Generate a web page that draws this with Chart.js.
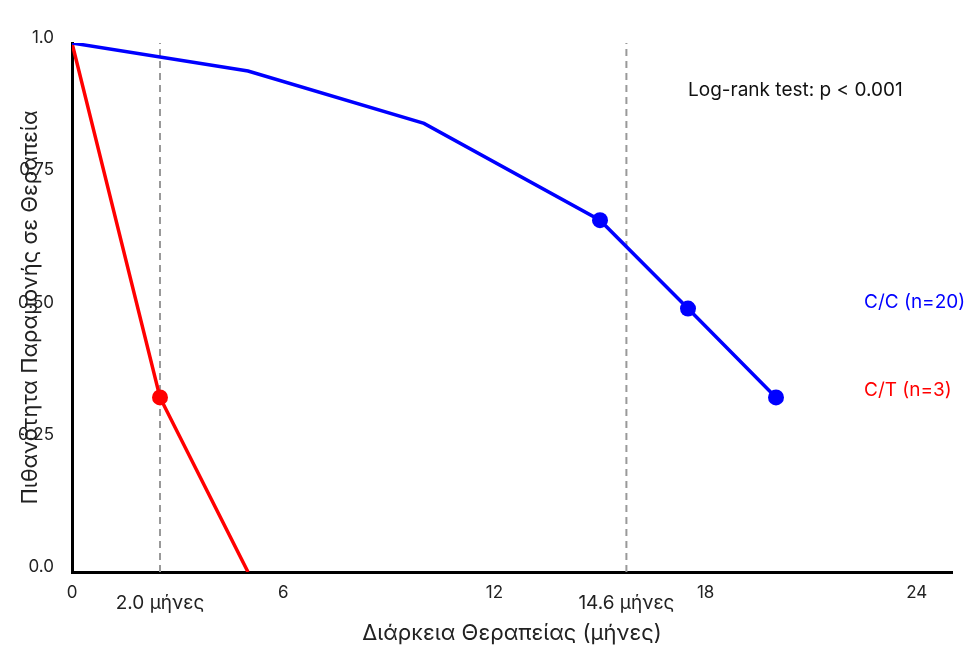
<!DOCTYPE html>
<html>
<head>
<meta charset="utf-8">
<script src="https://cdn.jsdelivr.net/npm/chart.js@4.4.0/dist/chart.umd.min.js"></script>
<style>
  html, body { margin: 0; padding: 0; background: #fff; }
  #wrap { width: 966px; height: 648px; }
</style>
</head>
<body>
<div id="wrap"><canvas id="kmChart"></canvas></div>
<script>
// Kaplan-Meier style curves (months vs probability of staying on therapy)
var ccMonths = [0, 5, 10, 15, 17.5, 20];
var ccSurvival = [1.0, 0.947, 0.848, 0.665, 0.498, 0.330];
var ccMarked = [false, false, false, true, true, true];

var ctMonths = [0, 2.5, 5];
var ctSurvival = [1.0, 0.330, 0.0];
var ctMarked = [false, true, false];

var medianMonths = [2.5, 15.75];
var medianLabels = ['2.0 μήνες', '14.6 μήνες'];

var xTicks = [0, 6, 12, 18, 24];
var yTicks = [0, 0.25, 0.5, 0.75, 1.0];
var yTickLabels = ['0.0', '0.25', '0.50', '0.75', '1.0'];

var FONT = 'Inter, "Liberation Sans", sans-serif';

function toPoints(xs, ys) {
    return xs.map(function(x, i) { return {x: x, y: ys[i]}; });
}

var datasets = [
    {
        label: 'C/C (n=20)',
        data: toPoints(ccMonths, ccSurvival),
        borderColor: '#0000ff',
        backgroundColor: '#0000ff',
        borderWidth: 3.5,
        pointRadius: ccMarked.map(function(m) { return m ? 8 : 0; }),
        pointBorderWidth: 0,
        tension: 0
    },
    {
        label: 'C/T (n=3)',
        data: toPoints(ctMonths, ctSurvival),
        borderColor: '#ff0000',
        backgroundColor: '#ff0000',
        borderWidth: 3.5,
        pointRadius: ctMarked.map(function(m) { return m ? 8 : 0; }),
        pointBorderWidth: 0,
        tension: 0
    }
];

medianMonths.forEach(function(m) {
    datasets.push({
        label: 'median',
        data: [{x: m, y: 0}, {x: m, y: 1}],
        borderColor: '#999999',
        borderWidth: 2,
        borderDash: [7, 5],
        pointRadius: 0
    });
});

// text annotations drawn on top of the plot
var annotations = {
    id: 'annotations',
    afterDraw: function(chart) {
        var c = chart.ctx, xs = chart.scales.x, ys = chart.scales.y;
        c.save();
        c.textBaseline = 'middle';

        c.font = '19px ' + FONT;
        c.fillStyle = '#111';
        c.textAlign = 'left';
        c.fillText('Log-rank test: p < 0.001', xs.getPixelForValue(17.5), ys.getPixelForValue(0.91));

        c.fillStyle = '#0000ff';
        c.fillText('C/C (n=20)', xs.getPixelForValue(22.5), ys.getPixelForValue(0.51));
        c.fillStyle = '#ff0000';
        c.fillText('C/T (n=3)', xs.getPixelForValue(22.5), ys.getPixelForValue(0.344));

        c.fillStyle = '#222';
        c.textAlign = 'center';
        medianMonths.forEach(function(m, i) {
            c.fillText(medianLabels[i], xs.getPixelForValue(m), chart.chartArea.bottom + 31);
        });
        c.restore();
    }
};

var ctx = document.getElementById('kmChart').getContext('2d');
var kmChart = new Chart(ctx, {
    type: 'line',
    data: { datasets: datasets },
    options: {
        responsive: true,
        maintainAspectRatio: false,
        animation: false,
        layout: { padding: { top: 43, right: 14, left: 0, bottom: 0 } },
        plugins: {
            legend: { display: false },
            tooltip: { enabled: false }
        },
        scales: {
            x: {
                type: 'linear',
                min: 0,
                max: 25,
                grid: { display: false, drawTicks: false },
                border: { display: true, color: '#000', width: 3 },
                afterBuildTicks: function(scale) {
                    scale.ticks = xTicks.map(function(v) { return {value: v}; });
                },
                afterFit: function(scale) { scale.height = 76; },
                ticks: {
                    padding: 11,
                    color: '#222',
                    font: { family: FONT, size: 17 },
                    maxRotation: 0
                },
                title: {
                    display: true,
                    text: 'Διάρκεια Θεραπείας (μήνες)',
                    color: '#222',
                    font: { family: FONT, size: 22 },
                    padding: { top: 0, bottom: 1 }
                }
            },
            y: {
                type: 'linear',
                min: 0,
                max: 1,
                grid: { display: false, drawTicks: false },
                border: { display: true, color: '#000', width: 3 },
                afterBuildTicks: function(scale) {
                    scale.ticks = yTicks.map(function(v) { return {value: v}; });
                },
                afterFit: function(scale) { scale.width = 72; },
                ticks: {
                    padding: 18,
                    labelOffset: -5,
                    color: '#222',
                    font: { family: FONT, size: 17 },
                    callback: function(value) {
                        var i = yTicks.indexOf(value);
                        return i >= 0 ? yTickLabels[i] : '';
                    }
                },
                title: {
                    display: true,
                    text: 'Πιθανότητα Παραμονής σε Θεραπεία',
                    color: '#222',
                    font: { family: FONT, size: 22 },
                    padding: { top: 17, bottom: 0 }
                }
            }
        }
    },
    plugins: [annotations]
});
</script>
</body>
</html>
